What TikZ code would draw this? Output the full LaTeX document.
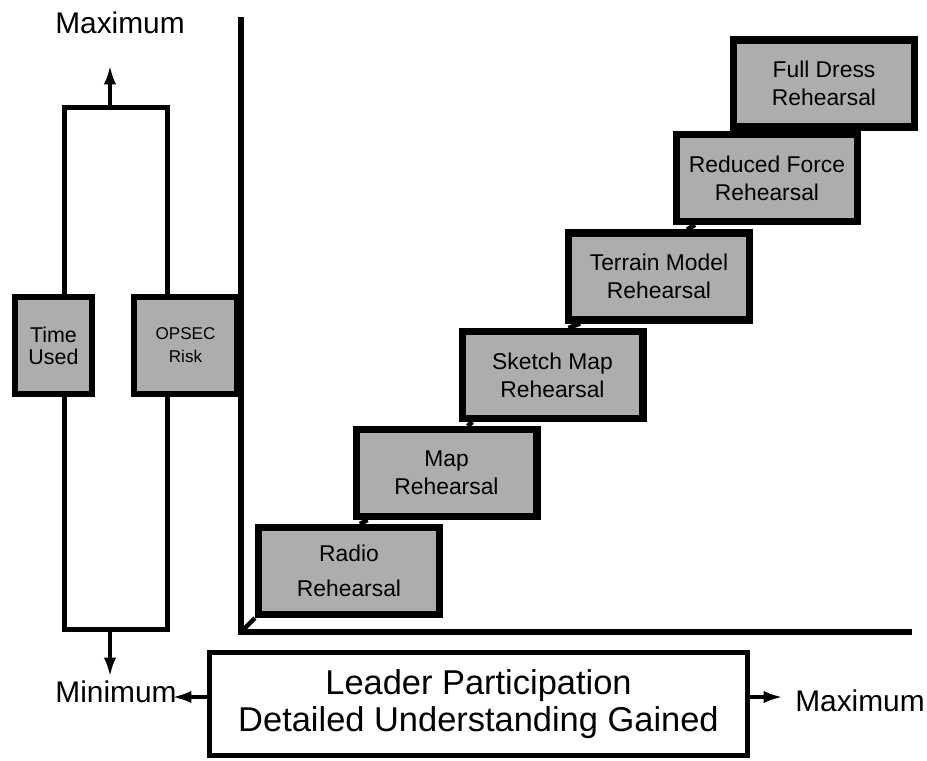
\documentclass[tikz,border=0pt]{standalone}
\usepackage{fontspec}
\setmainfont{Liberation Sans}
\usetikzlibrary{arrows.meta}
\definecolor{stipple}{gray}{0.68}

\begin{document}
\begin{tikzpicture}[x=0.02cm,y=-0.02cm,
  rehearsal/.style={draw,line width=4pt,fill=stipple,minimum width=3.62cm,minimum height=1.74cm,align=center,inner sep=0pt,font=\fontsize{13}{16}\selectfont},
  gauge/.style={draw,line width=3.4pt,fill=stipple,align=center,inner sep=0pt},
  axisline/.style={line width=2.9pt},
  arrowline/.style={line width=2.4pt,-{Latex[length=11pt,width=7pt]}},
  link/.style={line width=2.6pt},
  endlabel/.style={anchor=base,inner sep=0pt,font=\fontsize{17}{20}\selectfont}]
\useasboundingbox (0,0) rectangle (927,761);
\coordinate (origin) at (241,632);
\coordinate (ytop) at (241,17);
\coordinate (xend) at (912,632);
\draw[axisline] (ytop) -- (origin) -- (xend);
\node (range) at (116,368.5) [draw,line width=2.9pt,minimum width=2.06cm,minimum height=10.44cm] {};
\node (time) at (53.5,345.5) [gauge,minimum width=1.54cm,minimum height=1.94cm,font=\fontsize{12.2}{12.5}\selectfont] {Time\\Used};
\node (opsec) at (185.5,345.5) [gauge,minimum width=2.06cm,minimum height=1.94cm,font=\fontsize{9.7}{13}\selectfont] {OPSEC\\Risk};
\node (radio) at (349,571) [rehearsal] {Radio\\[4pt]Rehearsal};
\node (map) at (446.5,473) [rehearsal] {Map\\Rehearsal};
\node (sketch) at (552.5,375) [rehearsal] {Sketch Map\\Rehearsal};
\node (terrain) at (659,276.5) [rehearsal] {Terrain Model\\Rehearsal};
\node (reduced) at (767,178) [rehearsal] {Reduced Force\\Rehearsal};
\node (full) at (824,83.5) [rehearsal] {Full Dress\\Rehearsal};
\draw[link] (origin) -- (radio.south west);
\draw[link] ([xshift=2.1cm]radio.north west) -- ([xshift=0.3cm]map.south west);
\draw[link] ([xshift=2.3cm]map.north west) -- ([xshift=0.28cm]sketch.south west);
\draw[link] ([xshift=2.2cm]sketch.north west) -- ([xshift=0.3cm]terrain.south west);
\draw[link] ([xshift=2.44cm]terrain.north west) -- ([xshift=0.44cm]reduced.south west);
\draw[link] ([xshift=2.4cm]reduced.north west) -- ([xshift=1.3cm]full.south west);
\node (leader) at (478.5,704) [draw,line width=2.9pt,minimum width=10.76cm,minimum height=2.06cm,align=center,font=\fontsize{19.6}{21}\selectfont] {Leader Participation\\Detailed Understanding Gained};
\node (maxtop) at (120,33) [endlabel] {Maximum};
\node (minleft) at (116,702) [endlabel] {Minimum};
\node (maxright) at (860,711) [endlabel] {Maximum};
\coordinate (uptip) at (110,65);
\coordinate (downtip) at (110,677);
\coordinate (lefttip) at (172,697);
\coordinate (righttip) at (783,697);
\draw[arrowline] (range.north -| uptip) -- (uptip);
\draw[arrowline] (range.south -| downtip) -- (downtip);
\draw[arrowline] (leader.west |- lefttip) -- (lefttip);
\draw[arrowline] (leader.east |- righttip) -- (righttip);
\end{tikzpicture}
\end{document}
